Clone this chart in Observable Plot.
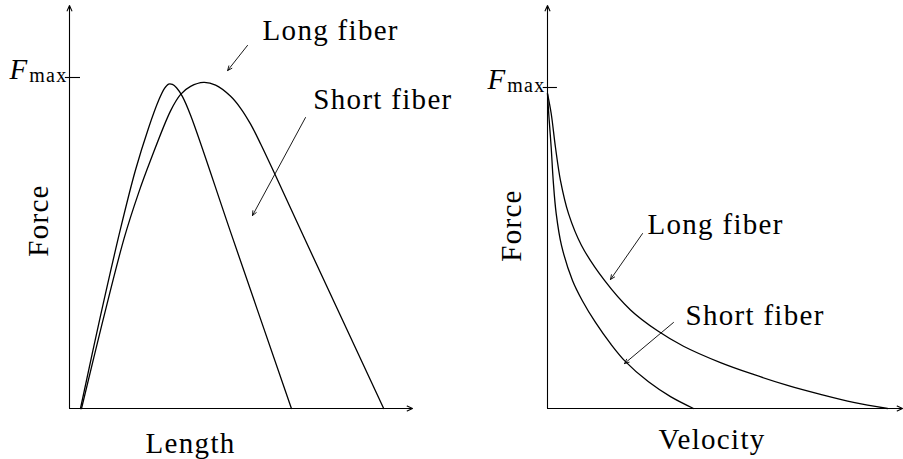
<!DOCTYPE html>
<html>
<head>
<meta charset="utf-8">
<script src="https://cdn.jsdelivr.net/npm/d3@7"></script>
<script src="https://cdn.jsdelivr.net/npm/@observablehq/plot@0.6"></script>
<style>
  body { margin: 0; background: #fff; }
  #row { display: flex; width: 903px; height: 459px; }
  #row svg { flex: none; }
</style>
</head>
<body>
<div id="row"></div>
<script>
// Force–length relation, force normalised to Fmax = 1
const lenShortX = [0.32, 0.90, 1.49, 1.92, 2.30, 2.60, 2.77, 2.89, 3.00, 3.12, 3.29, 3.53, 4.72, 6.47];
const lenShortF = [0, 0.278, 0.544, 0.719, 0.846, 0.931, 0.967, 0.980, 0.979, 0.969, 0.943, 0.886, 0.526, 0];
const lenLongX  = [0.35, 0.96, 1.60, 2.01, 2.36, 2.95, 3.24, 3.53, 3.91, 4.26, 4.69, 4.99, 5.28, 5.57, 6.01, 6.82, 9.16];
const lenLongF  = [0, 0.260, 0.517, 0.650, 0.749, 0.900, 0.949, 0.973, 0.985, 0.977, 0.944, 0.907, 0.859, 0.800, 0.703, 0.521, 0];

// Force–velocity relation, same normalisation
const velShortX = [0, 0.034, 0.104, 0.161, 0.245, 0.394, 0.704, 0.986, 1.352, 1.775, 2.197, 2.845, 3.465, 4.113];
const velShortF = [0.981, 0.919, 0.813, 0.710, 0.607, 0.508, 0.399, 0.335, 0.268, 0.202, 0.146, 0.083, 0.037, 0];
const velLongX  = [0, 0.104, 0.225, 0.366, 0.592, 0.958, 1.606, 2.338, 3.099, 3.831, 4.873, 5.803, 6.761, 7.690, 8.620, 9.577];
const velLongF  = [0.981, 0.919, 0.813, 0.710, 0.607, 0.508, 0.399, 0.307, 0.242, 0.194, 0.143, 0.106, 0.072, 0.044, 0.019, 0];

const seriesNames = ["Long fiber", "Short fiber"];
const fmaxParts = ["F", "max"];
const leftTitles = ["Force", "Length"];
const rightTitles = ["Force", "Velocity"];

const serif = "Liberation Serif";
const big = 29;
const svgStyle = {background: "transparent", overflow: "visible", letterSpacing: "1.3px"};
const head = {headLength: 8, headAngle: 48};

const pts = (xs, ys) => d3.zip(xs, ys);
const curve = (xs, ys) => Plot.line(pts(xs, ys), {x: d => d[0], y: d => d[1], curve: "catmull-rom", stroke: "black", strokeWidth: 1.3});

// Axis lines with open arrowheads, the Fmax tick and its label
function frame(xEnd, yEnd, tickLo, tickHi) {
  return [
    Plot.arrow([0], {x1: 0, y1: 0, x2: xEnd, y2: 0, stroke: "black", strokeWidth: 1.1, ...head}),
    Plot.arrow([0], {x1: 0, y1: 0, x2: 0, y2: yEnd, stroke: "black", strokeWidth: 1.1, ...head}),
    Plot.ruleY([1], {x1: tickLo, x2: tickHi, stroke: "black", strokeWidth: 1.1}),
    Plot.text([fmaxParts[1]], {x: 0, y: 1, dx: -2, dy: 4, textAnchor: "end", lineAnchor: "bottom",
      fontFamily: serif, fontSize: 20}),
    Plot.text([fmaxParts[0]], {x: 0, y: 1, dx: -41, dy: 1, textAnchor: "end", lineAnchor: "bottom",
      fontFamily: serif, fontSize: big, fontStyle: "italic"})
  ];
}

const label = (t, x, y, o = {}) => Plot.text([t], {x, y, textAnchor: "start", lineAnchor: "bottom",
  fontFamily: serif, fontSize: big, ...o});
const pointer = (x1, y1, x2, y2) => Plot.arrow([0], {x1, y1, x2, y2, stroke: "black", strokeWidth: 0.9, ...head});

const left = Plot.plot({
  width: 451, height: 459,
  marginLeft: 69, marginRight: 39, marginTop: 10.8, marginBottom: 51,
  x: {domain: [0, 10], axis: null},
  y: {domain: [0, 1.2], axis: null},
  style: svgStyle,
  marks: [
    ...frame(10, 1.2175, -0.12, 0.32),
    curve(lenShortX, lenShortF),
    curve(lenLongX, lenLongF),
    pointer(5.19, 1.097, 4.61, 1.021),
    pointer(6.88, 0.879, 5.335, 0.583),
    label(seriesNames[0], 5.63, 1.112),
    label(seriesNames[1], 7.11, 0.906),
    label(leftTitles[0], -0.641, 0.568, {rotate: -90, textAnchor: "middle"}),
    label(leftTitles[1], 3.53, -0.133, {textAnchor: "middle"})
  ]
});

const right = Plot.plot({
  width: 452, height: 459,
  marginLeft: 96, marginRight: 1, marginTop: 6.75, marginBottom: 51,
  x: {domain: [0, 10], axis: null},
  y: {domain: [0, 1.25], axis: null},
  style: svgStyle,
  marks: [
    ...frame(10, 1.2555, -0.12, 0.28),
    curve(velShortX, velShortF),
    curve(velLongX, velLongF),
    pointer(2.676, 0.545, 1.775, 0.402),
    pointer(3.549, 0.268, 2.169, 0.140),
    label(seriesNames[0], 2.817, 0.545),
    label(seriesNames[1], 3.887, 0.259),
    label(rightTitles[0], -0.76, 0.570, {rotate: -90, textAnchor: "middle"}),
    label(rightTitles[1], 4.634, -0.125, {textAnchor: "middle"})
  ]
});

const row = document.getElementById("row");
row.append(left, right);
</script>
</body>
</html>
